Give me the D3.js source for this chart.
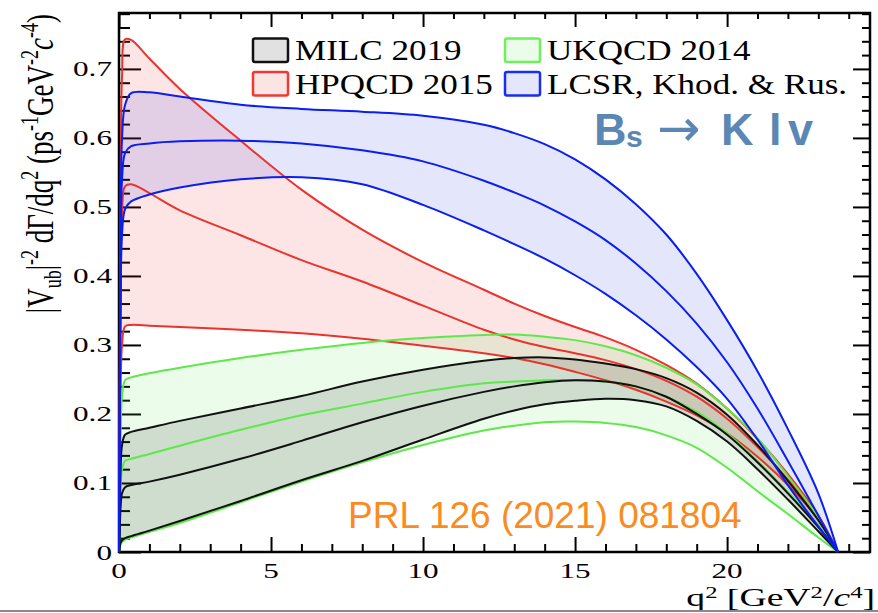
<!DOCTYPE html>
<html>
<head>
<meta charset="utf-8">
<script src="https://cdn.jsdelivr.net/npm/d3@7"></script>
<style>
  body { margin: 0; background: #fff; }
  svg { display: block; }
</style>
</head>
<body>
<svg id="chart" width="878" height="613"></svg>
<script>
// q^2 sampling points (GeV^2/c^4)
const q2 = [0, 0.02, 0.05, 0.1, 0.2, 0.4, 1, 2, 4, 6, 8, 10, 12, 13, 14, 15, 16, 17, 18, 19, 20, 21, 22, 23, 23.65];

// |Vub|^-2 dGamma/dq^2 bands: high edge, central value, low edge
const milcHigh = [0, 0.04, 0.115, 0.155, 0.17, 0.174, 0.18, 0.19, 0.208, 0.226, 0.247, 0.264, 0.277, 0.281, 0.282, 0.279, 0.273, 0.265, 0.252, 0.231, 0.199, 0.155, 0.103, 0.046, 0];
const milcMid  = [0, 0.022, 0.063, 0.085, 0.094, 0.097, 0.102, 0.112, 0.135, 0.161, 0.188, 0.212, 0.232, 0.24, 0.246, 0.249, 0.247, 0.24, 0.225, 0.2, 0.17, 0.13, 0.085, 0.036, 0];
const milcLow  = [0, 0.005, 0.013, 0.017, 0.02, 0.023, 0.031, 0.045, 0.074, 0.104, 0.132, 0.163, 0.193, 0.205, 0.214, 0.219, 0.222, 0.22, 0.211, 0.19, 0.16, 0.12, 0.076, 0.03, 0];

const ukqcdHigh = [0, 0.06, 0.165, 0.225, 0.249, 0.253, 0.259, 0.267, 0.281, 0.293, 0.303, 0.31, 0.3145, 0.315, 0.312, 0.307, 0.298, 0.285, 0.267, 0.243, 0.208, 0.165, 0.11, 0.05, 0];
const ukqcdMid  = [0, 0.03, 0.088, 0.12, 0.132, 0.135, 0.142, 0.154, 0.177, 0.198, 0.215, 0.232, 0.2445, 0.247, 0.249, 0.249, 0.247, 0.24, 0.225, 0.203, 0.172, 0.132, 0.087, 0.038, 0];
const ukqcdLow  = [0, 0.004, 0.011, 0.014, 0.018, 0.021, 0.029, 0.042, 0.072, 0.102, 0.13, 0.155, 0.176, 0.183, 0.188, 0.189, 0.187, 0.181, 0.169, 0.151, 0.122, 0.088, 0.055, 0.021, 0];

const hpqcdHigh = [0, 0.2, 0.5, 0.69, 0.743, 0.742, 0.715, 0.671, 0.596, 0.525, 0.467, 0.42, 0.38, 0.36, 0.342, 0.326, 0.311, 0.293, 0.271, 0.244, 0.208, 0.164, 0.113, 0.053, 0];
const hpqcdMid  = [0, 0.14, 0.36, 0.49, 0.53, 0.533, 0.52, 0.495, 0.459, 0.423, 0.392, 0.357, 0.322, 0.308, 0.297, 0.288, 0.278, 0.265, 0.248, 0.225, 0.193, 0.152, 0.105, 0.05, 0];
const hpqcdLow  = [0, 0.085, 0.22, 0.3, 0.327, 0.329, 0.328, 0.326, 0.322, 0.317, 0.309, 0.299, 0.288, 0.281, 0.272, 0.261, 0.249, 0.235, 0.218, 0.198, 0.172, 0.138, 0.097, 0.047, 0];

const lcsrHigh = [0, 0.17, 0.45, 0.6, 0.648, 0.665, 0.666, 0.66, 0.648, 0.642, 0.638, 0.632, 0.619, 0.607, 0.591, 0.569, 0.54, 0.504, 0.46, 0.403, 0.336, 0.262, 0.178, 0.085, 0];
const lcsrMid  = [0, 0.15, 0.4, 0.54, 0.578, 0.588, 0.592, 0.595, 0.596, 0.592, 0.582, 0.566, 0.538, 0.521, 0.502, 0.479, 0.452, 0.418, 0.378, 0.331, 0.275, 0.208, 0.132, 0.053, 0];
const lcsrLow  = [0, 0.13, 0.34, 0.46, 0.497, 0.508, 0.518, 0.528, 0.54, 0.543, 0.533, 0.503, 0.466, 0.446, 0.425, 0.401, 0.374, 0.343, 0.308, 0.268, 0.222, 0.163, 0.097, 0.037, 0];

// axis ticks and labels
const xMajor = [0, 5, 10, 15, 20];
const xLabels = ["0", "5", "10", "15", "20"];
const yMajor = [0, 0.1, 0.2, 0.3, 0.4, 0.5, 0.6, 0.7];
const yLabels = ["0", "0.1", "0.2", "0.3", "0.4", "0.5", "0.6", "0.7"];

// legend entries
const legendNames = ["MILC 2019", "UKQCD 2014", "HPQCD 2015", "LCSR, Khod. & Rus."];

const svg = d3.select("#chart");
const W = 878, H = 613;
const L = 119, R = 870, T = 13, B = 552;

const x = d3.scaleLinear().domain([0, 24.7]).range([L, R]);
const y = d3.scaleLinear().domain([0, 0.781]).range([B, T]);

const serif = "'Liberation Serif', 'Times New Roman', serif";
const sans = "'Liberation Sans', Arial, Helvetica, sans-serif";

// ---- frame and ticks ----
const xMinor = d3.range(0, 25, 1).filter(v => !xMajor.includes(v));
const yMinor = d3.range(0, 0.781, 0.02).filter(v => yMajor.every(m => Math.abs(m - v) > 1e-6));

function tickGroup(axisFn, scale, values, size, tx, ty) {
  const g = svg.append("g").attr("transform", `translate(${tx},${ty})`)
    .call(axisFn(scale).tickValues(values).tickSize(size).tickFormat(""));
  g.select(".domain").remove();
  g.selectAll(".tick line").attr("stroke", "#000").attr("stroke-width", 2);
  return g;
}
tickGroup(d3.axisBottom, x, xMajor, -15, 0, B);
tickGroup(d3.axisBottom, x, xMinor, -8, 0, B);
tickGroup(d3.axisTop, x, xMajor, -14, 0, T);
tickGroup(d3.axisTop, x, xMinor, -6, 0, T);
tickGroup(d3.axisLeft, y, yMajor, -22, L, 0);
tickGroup(d3.axisLeft, y, yMinor, -11, L, 0);
tickGroup(d3.axisRight, y, yMajor, -17, R, 0);
tickGroup(d3.axisRight, y, yMinor, -8, R, 0);

svg.append("rect")
  .attr("x", L).attr("y", T).attr("width", R - L).attr("height", B - T)
  .attr("fill", "none").attr("stroke", "#000").attr("stroke-width", 2.5);

// ---- bands ----
const series = [
  { name: "hpqcd", hi: hpqcdHigh, mid: hpqcdMid, lo: hpqcdLow, line: "#e8342c", fill: "#f02a2a", op: 0.12 },
  { name: "lcsr",  hi: lcsrHigh,  mid: lcsrMid,  lo: lcsrLow,  line: "#0a1ef0", fill: "#2535e6", op: 0.12 },
  { name: "ukqcd", hi: ukqcdHigh, mid: ukqcdMid, lo: ukqcdLow, line: "#5ee84a", fill: "#48e040", op: 0.11 },
  { name: "milc",  hi: milcHigh,  mid: milcMid,  lo: milcLow,  line: "#111111", fill: "#000000", op: 0.12 }
];

const smooth = d3.curveCatmullRom.alpha(0.5);
const area = d3.area()
  .x(d => x(d.q))
  .y0(d => y(d.lo))
  .y1(d => y(d.hi))
  .curve(smooth);
const line = d3.line()
  .x(d => x(d[0]))
  .y(d => y(d[1]))
  .curve(smooth);

const plot = svg.append("g");
series.forEach(s => {
  const rows = q2.map((q, i) => ({ q, hi: s.hi[i], lo: s.lo[i] }));
  plot.append("path").attr("d", area(rows))
    .attr("fill", s.fill).attr("fill-opacity", s.op).attr("stroke", "none");
});
const lineOrder = ["hpqcd", "ukqcd", "milc", "lcsr"];
lineOrder.forEach(n => {
  const s = series.find(d => d.name === n);
  [s.hi, s.mid, s.lo].forEach(vals => {
    plot.append("path")
      .attr("d", line(q2.map((q, i) => [q, vals[i]])))
      .attr("fill", "none").attr("stroke", s.line).attr("stroke-width", 2)
      .attr("stroke-linejoin", "round");
  });
});

// ---- tick labels (serif, horizontally widened) ----
const labelSX = 1.45;
xMajor.forEach((v, i) => {
  svg.append("text")
    .attr("transform", `translate(${x(v)},578) scale(${labelSX},1)`)
    .attr("text-anchor", "middle")
    .attr("font-family", serif).attr("font-size", 21.5).attr("fill", "#000")
    .text(xLabels[i]);
});
yMajor.forEach((v, i) => {
  svg.append("text")
    .attr("transform", `translate(112,${y(v) + 7.5}) scale(${labelSX},1)`)
    .attr("text-anchor", "end")
    .attr("font-family", serif).attr("font-size", 21.5).attr("fill", "#000")
    .text(yLabels[i]);
});

// ---- axis titles ----
const xt = svg.append("text")
  .attr("transform", "translate(875,606) scale(1.45,1)")
  .attr("text-anchor", "end")
  .attr("font-family", serif).attr("font-size", 26).attr("fill", "#000");
xt.append("tspan").text("q");
xt.append("tspan").attr("font-size", 17).attr("dy", -8).text("2");
xt.append("tspan").attr("dy", 8).text(" [GeV");
xt.append("tspan").attr("font-size", 17).attr("dy", -8).text("2");
xt.append("tspan").attr("dy", 8).text("/");
xt.append("tspan").attr("font-style", "italic").text("c");
xt.append("tspan").attr("font-size", 17).attr("dy", -8).text("4");
xt.append("tspan").attr("dy", 8).text("]");

const yt = svg.append("text")
  .attr("transform", "translate(53,14) scale(1.4,1) rotate(-90)")
  .attr("text-anchor", "end")
  .attr("font-family", serif).attr("font-size", 27).attr("fill", "#000");
yt.append("tspan").text("|V");
yt.append("tspan").attr("font-size", 18).attr("dy", 6).text("ub");
yt.append("tspan").attr("dy", -6).text("|");
yt.append("tspan").attr("font-size", 18).attr("dy", -11).text("-2");
yt.append("tspan").attr("dy", 11).text(" d\u0393/dq");
yt.append("tspan").attr("font-size", 18).attr("dy", -11).text("2");
yt.append("tspan").attr("dy", 11).text(" (ps");
yt.append("tspan").attr("font-size", 18).attr("dy", -11).text("-1");
yt.append("tspan").attr("dy", 11).text("GeV");
yt.append("tspan").attr("font-size", 18).attr("dy", -11).text("-2");
yt.append("tspan").attr("dy", 11).attr("font-style", "italic").text("c");
yt.append("tspan").attr("font-size", 18).attr("dy", -11).text("-4");
yt.append("tspan").attr("dy", 11).text(")");

// ---- legend ----
const legendStyle = [
  { fill: "#e1e1e1", stroke: "#111111" },
  { fill: "#ebfdea", stroke: "#6ef05a" },
  { fill: "#fbe4e4", stroke: "#ee3a32" },
  { fill: "#e4e6fb", stroke: "#1a2ef2" }
];
const legendCols = [253, 505];
const legendRows = [38.5, 72];
legendNames.forEach((name, i) => {
  const cx = legendCols[i % 2], ry = legendRows[Math.floor(i / 2)];
  svg.append("rect")
    .attr("x", cx).attr("y", ry).attr("width", 35).attr("height", 23.5).attr("rx", 2)
    .attr("fill", legendStyle[i].fill).attr("stroke", legendStyle[i].stroke).attr("stroke-width", 2.5);
  svg.append("text")
    .attr("transform", `translate(${cx + 42},${ry + 21.5}) scale(1.21,1)`)
    .attr("font-family", serif).attr("font-size", 29).attr("fill", "#000")
    .text(name);
});

// ---- process label ----
const titleColor = "#5b87b5";
const tg = svg.append("g").attr("fill", titleColor).attr("font-family", sans);
tg.append("text").attr("x", 594).attr("y", 145).attr("font-size", 45).attr("font-weight", "bold").text("B");
tg.append("text").attr("x", 626).attr("y", 147).attr("font-size", 30).attr("font-weight", "bold").text("s");
tg.append("text").attr("x", 657).attr("y", 146).attr("font-size", 52).attr("font-family", "'DejaVu Sans', sans-serif").text("\u2192");
tg.append("text").attr("x", 721).attr("y", 145).attr("font-size", 45).attr("font-weight", "bold").text("K");
tg.append("text").attr("x", 769).attr("y", 145).attr("font-size", 45).attr("font-weight", "bold").text("l");
tg.append("text").attr("x", 788).attr("y", 145).attr("font-size", 45).attr("font-weight", "bold").text("v");

// ---- reference label ----
svg.append("text")
  .attr("x", 348).attr("y", 528)
  .attr("font-family", sans).attr("font-size", 37).attr("fill", "#f98b1f")
  .text("PRL 126 (2021) 081804");

// bottom rule
svg.append("line").attr("x1", 0).attr("x2", W).attr("y1", 611).attr("y2", 611)
  .attr("stroke", "#8a8a8a").attr("stroke-width", 2);
</script>
</body>
</html>
